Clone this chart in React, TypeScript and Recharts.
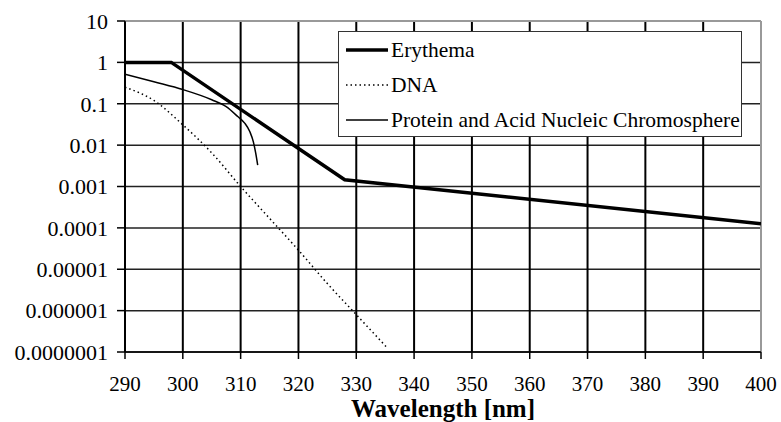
import { CartesianGrid, Legend, Line, LineChart, ReferenceLine, XAxis, YAxis } from 'recharts'

// wavelength [nm] / relative response
const erythemaX = [290, 298, 328, 400]
const erythemaY = [1, 1, 0.00145, 0.000126]

const dnaX = [290, 295, 300, 305, 310, 315, 320, 325, 330, 335.5]
const dnaY = [0.25, 0.12, 0.031, 0.0065, 0.001, 0.00017, 0.000029, 0.0000045, 0.0000008, 0.00000012]

const proteinX = [290, 295, 300, 305, 307.5, 309.5, 310.7, 311.6, 312.2, 312.6, 312.95]
const proteinY = [0.52, 0.34, 0.22, 0.125, 0.085, 0.049, 0.034, 0.021, 0.012, 0.0065, 0.0033]

const xTicks = [290, 300, 310, 320, 330, 340, 350, 360, 370, 380, 390, 400]
const yTicks = [0.0000001, 0.000001, 0.00001, 0.0001, 0.001, 0.01, 0.1, 1, 10]
const yTickLabels = ['0.0000001', '0.000001', '0.00001', '0.0001', '0.001', '0.01', '0.1', '1', '10']

const seriesNames = ['Erythema', 'DNA', 'Protein and Acid Nucleic Chromosphere']

const toPoints = (xs: number[], ys: number[]) => xs.map((x, i) => ({ x, y: ys[i] }))

const erythema = toPoints(erythemaX, erythemaY)
const dna = toPoints(dnaX, dnaY)
const protein = toPoints(proteinX, proteinY)

const font = "'Liberation Serif', 'Times New Roman', serif"

const formatY = (v: number) => {
  const i = yTicks.findIndex((t) => Math.abs(Math.log10(t) - Math.log10(v)) < 1e-6)
  return i >= 0 ? yTickLabels[i] : ''
}

const sampleStyles = [
  { strokeWidth: 3.5, dash: undefined },
  { strokeWidth: 1.5, dash: '1.5 3' },
  { strokeWidth: 1.5, dash: undefined },
]

const LegendBox = () => (
  <div
    style={{
      width: 402,
      height: 104,
      border: '1px solid #333',
      background: '#fff',
      fontFamily: font,
      fontSize: 21.5,
      color: '#000',
      position: 'relative',
    }}
  >
    {seriesNames.map((name, i) => (
      <div
        key={name}
        style={{ position: 'absolute', left: 6, top: 4 + i * 35, height: 28, display: 'flex', alignItems: 'center' }}
      >
        <svg width={44} height={10} style={{ display: 'block' }}>
          <line
            x1={1}
            x2={43}
            y1={5}
            y2={5}
            stroke="#000"
            strokeWidth={sampleStyles[i].strokeWidth}
            strokeDasharray={sampleStyles[i].dash}
          />
        </svg>
        <span style={{ marginLeft: 2, whiteSpace: 'nowrap' }}>{name}</span>
      </div>
    ))}
  </div>
)

const App = () => {
  return (
    <div style={{ position: 'absolute', left: 0, top: 0, background: '#fff' }}>
      <LineChart width={781} height={422} margin={{ top: 21, right: 20, bottom: 0, left: 0 }}>
        <CartesianGrid vertical={false} stroke="#222" strokeWidth={1.5} />
        <CartesianGrid horizontal={false} stroke="#000" strokeWidth={2} />
        <XAxis
          type="number"
          dataKey="x"
          domain={[290, 400]}
          ticks={xTicks}
          interval={0}
          allowDataOverflow
          height={70}
          stroke="#000"
          strokeWidth={1.5}
          tickSize={7}
          tickMargin={17}
          tick={{ fill: '#000', fontSize: 21, fontFamily: font }}
          label={{
            value: 'Wavelength [nm]',
            position: 'insideBottom',
            offset: 5,
            style: { fill: '#000', fontSize: 25, fontWeight: 'bold', fontFamily: font },
          }}
        />
        <YAxis
          type="number"
          dataKey="y"
          scale="log"
          domain={[0.0000001, 10]}
          ticks={yTicks}
          interval={0}
          allowDataOverflow
          width={125}
          stroke="#000"
          strokeWidth={1.5}
          tickSize={8}
          tickMargin={9}
          tickFormatter={formatY}
          tick={{ fill: '#000', fontSize: 22, fontFamily: font }}
        />
        <ReferenceLine x={400} stroke="#999" strokeWidth={2} />
        <ReferenceLine y={10} stroke="#999" strokeWidth={2} />
        <Legend
          layout="horizontal"
          verticalAlign="middle"
          align="center"
          content={() => <LegendBox />}
          wrapperStyle={{ left: 338, top: 31, width: 'auto' }}
        />
        <Line
          data={dna}
          dataKey="y"
          name={seriesNames[1]}
          type="monotone"
          stroke="#000"
          strokeWidth={1.5}
          strokeDasharray="1.5 3"
          dot={false}
          isAnimationActive={false}
        />
        <Line
          data={protein}
          dataKey="y"
          name={seriesNames[2]}
          type="monotone"
          stroke="#000"
          strokeWidth={1.5}
          dot={false}
          isAnimationActive={false}
        />
        <Line
          data={erythema}
          dataKey="y"
          name={seriesNames[0]}
          type="linear"
          stroke="#000"
          strokeWidth={3.5}
          dot={false}
          isAnimationActive={false}
        />
      </LineChart>
    </div>
  )
}

export default App
